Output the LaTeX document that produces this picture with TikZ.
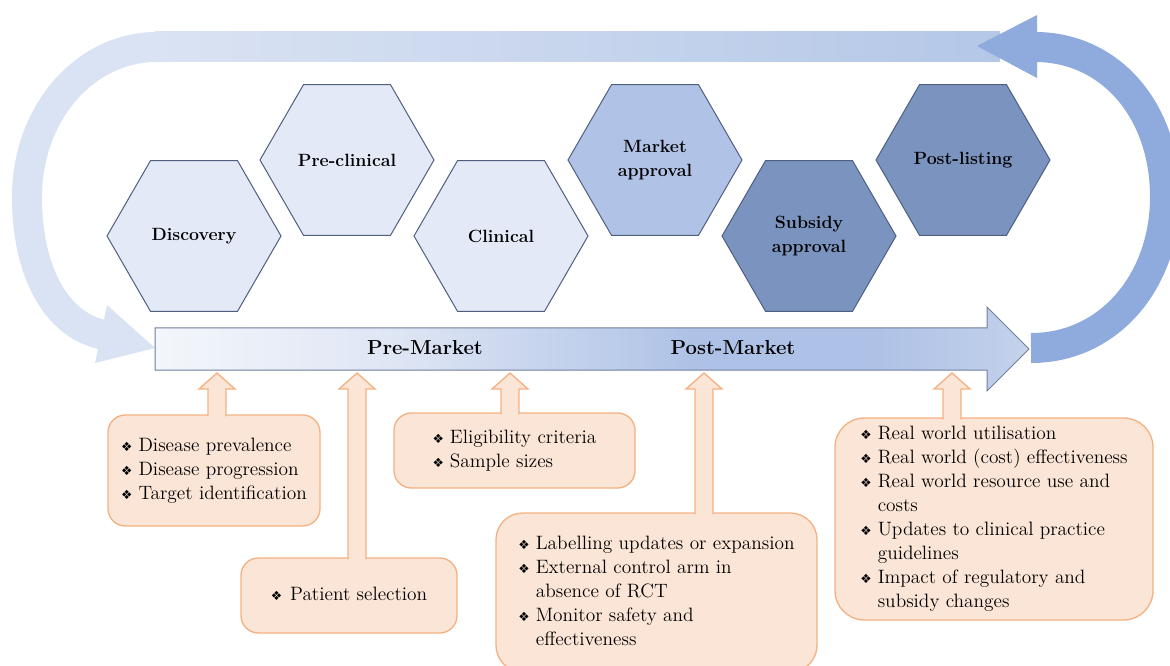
\documentclass[tikz,border=0pt]{standalone}
\usepackage{fontspec}
\newfontfamily\symfont{DejaVu Sans}
\usetikzlibrary{shapes.geometric,calc}

\definecolor{hexlight}{HTML}{E3E9F6}
\definecolor{hexmid}{HTML}{B0C3E6}
\definecolor{hexdark}{HTML}{7A93BF}
\definecolor{hexline}{HTML}{4E5F80}
\definecolor{loopleft}{HTML}{DAE3F3}
\definecolor{loopright}{HTML}{8FAADC}
\definecolor{bandend}{HTML}{B4C7E7}
\definecolor{notefill}{HTML}{FBE5D6}
\definecolor{noteline}{HTML}{F4B183}
\definecolor{flowline}{HTML}{6F7F9E}
\definecolor{flowa}{HTML}{F3F6FB}
\definecolor{flowb}{HTML}{DEE5F4}
\definecolor{flowc}{HTML}{CAD6EE}
\definecolor{flowd}{HTML}{BCCDEA}
\definecolor{flowe}{HTML}{AEC1E6}
\definecolor{flowf}{HTML}{BECEEA}
\definecolor{flowg}{HTML}{C6D3EC}

\pgfdeclarehorizontalshading{flowshade}{100bp}{color(0bp)=(flowa); color(25bp)=(flowa);
  color(39bp)=(flowb); color(46bp)=(flowc); color(51bp)=(flowd); color(56bp)=(flowe);
  color(66bp)=(flowe); color(73bp)=(flowf); color(75bp)=(flowg); color(100bp)=(flowg)}

\newcommand{\bul}{{\symfont\fontsize{9.5}{9.5}\selectfont\char"2756}}
% block arrow from a note box up to the flow arrow
\newcommand{\noteup}[2]{%
  \filldraw[pointer] ($(#2-9,0 |- #1.north)+(0,2)$) -- (#2-9,389) -- (#2-18,389)
    -- (#2,0 |- flowbase) -- (#2+18,389) -- (#2+9,389) -- ($(#2+9,0 |- #1.north)+(0,2)$);}

\tikzset{
  stage/.style={regular polygon, regular polygon sides=6, minimum size=130.5pt,
    inner sep=0pt, draw=hexline, line width=0.75pt, align=center,
    font=\fontsize{13.3}{18}\selectfont\bfseries},
  note/.style={draw=noteline, fill=notefill, line width=1pt, inner sep=0pt,
    font=\fontsize{14.5}{18}\selectfont},
  pointer/.style={draw=noteline, fill=notefill, line width=1pt},
  flowtext/.style={font=\fontsize{15.2}{18}\selectfont\bfseries},
}

\begin{document}
\begin{tikzpicture}[x=0.75pt, y=-0.75pt]
  \useasboundingbox (0,0) rectangle (1170,666);

  % loop back
  \shade[left color=loopleft, right color=bandend] (155,32) rectangle (1000,62);
  \draw[loopleft, line width=22.5pt] (157,47) .. controls (84,47) and (27,114) .. (27,197)
    .. controls (27,270) and (55,325) .. (104,335);
  \fill[loopleft] (107,305) -- (155,348) -- (95,363) -- cycle;
  \draw[loopright, line width=22.5pt] (1031,348) .. controls (1110,348) and (1165,280) .. (1165,197)
    .. controls (1165,110) and (1110,47) .. (1035,47);
  \fill[loopright] (1037,15) -- (977,46) -- (1037,78) -- cycle;

  % stages
  \node[stage, fill=hexlight] (discovery) at (194,236) {Discovery};
  \node[stage, fill=hexlight] (preclinical) at (347,160) {Pre-clinical};
  \node[stage, fill=hexlight] (clinical) at (501,236) {Clinical};
  \node[stage, fill=hexmid] (market) at (655,160) {Market\\approval};
  \node[stage, fill=hexdark] (subsidy) at (809,236) {Subsidy\\approval};
  \node[stage, fill=hexdark] (postlisting) at (963,160) {Post-listing};

  % flow arrow
  \shade[shading=flowshade, draw=flowline, line width=0.75pt] (155,328) -- (987,328) -- (987,307)
    -- (1029,349) -- (987,391) -- (987,370) -- (155,370) -- cycle;
  \coordinate (flowbase) at (155,373);
  \node[flowtext] (premarket) at (425,348) {Pre-Market};
  \node[flowtext] (postmarket) at (733,348) {Post-Market};

  % notes
  \node[note, rounded corners=13pt, minimum width=159pt, minimum height=83.25pt] (disease) at (214,470.5)
    {\begin{tabular}{@{}l@{\hspace{4.5pt}}l@{}}
      \bul & Disease prevalence\\
      \bul & Disease progression\\
      \bul & Target identification
    \end{tabular}};
  \node[note, rounded corners=13pt, minimum width=162pt, minimum height=56.25pt] (patient) at (349,595.5)
    {\begin{tabular}{@{}l@{\hspace{6pt}}l@{}}
      \bul & Patient selection
    \end{tabular}};
  \node[note, rounded corners=13pt, minimum width=180.75pt, minimum height=56.25pt] (trial) at (514.5,450.5)
    {\begin{tabular}{@{}l@{\hspace{4.5pt}}l@{}}
      \bul & Eligibility criteria\\
      \bul & Sample sizes
    \end{tabular}\hspace{30pt}};
  \node[note, rounded corners=20pt, minimum width=240.75pt, minimum height=119.25pt] (labelling) at (656.5,592.5)
    {\begin{tabular}{@{}l@{\hspace{4.5pt}}l@{}}
      \bul & Labelling updates or expansion\\
      \bul & External control arm in\\
           & absence of RCT\\
      \bul & Monitor safety and\\
           & effectiveness
    \end{tabular}};
  \node[note, rounded corners=22pt, minimum width=238.5pt, minimum height=151.5pt] (realworld) at (994,519)
    {\begin{tabular}{@{}l@{\hspace{4.5pt}}l@{}}
      \bul & Real world utilisation\\
      \bul & Real world (cost) effectiveness\\
      \bul & Real world resource use and\\
           & costs\\
      \bul & Updates to clinical practice\\
           & guidelines\\
      \bul & Impact of regulatory and\\
           & subsidy changes
    \end{tabular}};

  \noteup{disease}{217}
  \noteup{patient}{357}
  \noteup{trial}{510}
  \noteup{labelling}{704}
  \noteup{realworld}{952}
\end{tikzpicture}
\end{document}
